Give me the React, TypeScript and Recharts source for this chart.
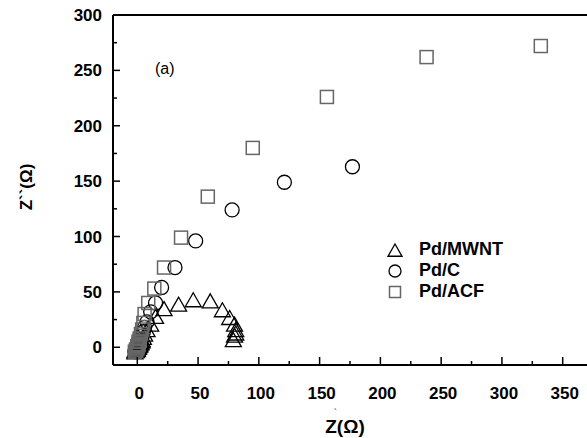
import { ScatterChart, Scatter, XAxis, YAxis, ReferenceLine, Legend } from 'recharts';

const FONT = '"Liberation Sans", Arial, sans-serif';

// Nyquist data: [Z', Z''] in ohm
const mwnt = [
  [-2, -5], [-2, -4], [-1, -4], [-1, -3], [0, -3], [0, -2], [0, -1], [1, -1], [1, 0], [1, 1],
  [2, 1], [2, 2], [2, 3], [3, 3], [3, 4], [4, 5], [4, 6], [5, 8], [6, 11], [8, 15], [11, 20],
  [15, 27], [22, 34], [34, 38], [46, 42], [60, 41], [70, 33], [76, 26], [80, 20], [81, 15],
  [81, 12], [80, 10], [79, 6],
];
const pdC = [
  [-2, -4], [-1, -3], [0, -3], [0, -2], [1, -1], [1, 0], [1, 2], [2, 3], [2, 4], [3, 5],
  [3, 7], [4, 10], [5, 14], [6, 18], [8, 23], [11, 32], [15, 40], [20, 54], [31, 72],
  [48, 96], [78, 124], [121, 149], [177, 163],
];
const acf = [
  [-2, -4], [-1, -3], [-1, -2], [0, -1], [0, 0], [0, 1], [1, 2], [1, 3], [1, 5], [2, 6],
  [2, 8], [3, 12], [4, 16], [5, 22], [6, 30], [9, 40], [14, 53], [22, 72], [36, 99],
  [58, 136], [95, 180], [156, 226], [238, 262], [332, 272],
];

const xTicks = [0, 25, 50, 75, 100, 125, 150, 175, 200, 225, 250, 275, 300, 325, 350];
const yTicks = [0, 25, 50, 75, 100, 125, 150, 175, 200, 225, 250, 275, 300];

const toPts = (arr: number[][]) => arr.map(([x, y]) => ({ x, y }));

const Triangle = ({ cx, cy, half }: any) => {
  const h = half ?? 8;
  return (
    <polygon
      points={`${cx},${cy - h} ${cx - h},${cy + h * 0.75} ${cx + h},${cy + h * 0.75}`}
      fill="none" stroke="#000" strokeWidth={1.3}
    />
  );
};
const Circle = ({ cx, cy, rad }: any) => (
  <circle cx={cx} cy={cy} r={rad ?? 7} fill="none" stroke="#000" strokeWidth={1.3} />
);
const Square = ({ cx, cy, side }: any) => {
  const s = side ?? 6.5;
  return <rect x={cx - s} y={cy - s} width={s * 2} height={s * 2} fill="none" stroke="#666" strokeWidth={1.5} />;
};

const YTick = ({ x, y, payload }: any) => {
  const major = payload.value % 50 === 0;
  return (
    <g>
      <line x1={x} x2={x + (major ? 7 : 4)} y1={y} y2={y} stroke="#000" strokeWidth={1.5} />
      {major && (
        <text x={x - 11} y={y} dy={6} textAnchor="end" fontSize={17} fontWeight="bold" fontFamily={FONT} fill="#000">
          {payload.value}
        </text>
      )}
    </g>
  );
};

const XTick = ({ x, y, payload }: any) => {
  const major = payload.value % 50 === 0;
  return (
    <g>
      <line x1={x} x2={x} y1={y} y2={y - (major ? 8 : 4)} stroke="#000" strokeWidth={1.5} />
      {major && (
        <text x={x + 2} y={y + 34} textAnchor="middle" fontSize={17} fontWeight="bold" fontFamily={FONT} fill="#000">
          {payload.value}
        </text>
      )}
    </g>
  );
};

const XTitle = () => (
  <g>
    <text x={345} y={433} textAnchor="middle" fontSize={19} fontWeight="bold" fontFamily={FONT} fill="#000">
      Z(Ω)
    </text>
    <text x={334} y={415} fontSize={9} fontFamily={FONT} fill="#000">`</text>
  </g>
);

const YTitle = () => (
  <text x={26} y={187} transform="rotate(-90, 26, 187)" dy={6} textAnchor="middle" fontSize={17} fontWeight="bold" fontFamily={FONT} fill="#000">
    Z``(Ω)
  </text>
);

const legendItems = [
  { name: 'Pd/MWNT', icon: <Triangle cx={10} cy={11} half={7} /> },
  { name: 'Pd/C', icon: <Circle cx={10} cy={10} rad={6} /> },
  { name: 'Pd/ACF', icon: <Square cx={10} cy={10} side={5.5} /> },
];

const renderLegend = () => (
  <div style={{ fontFamily: FONT }}>
    {legendItems.map((it) => (
      <div key={it.name} style={{ display: 'flex', alignItems: 'center', height: 21 }}>
        <svg width={20} height={20} style={{ marginRight: 14 }}>{it.icon}</svg>
        <span style={{ fontSize: 18, fontWeight: 'bold', color: '#000' }}>{it.name}</span>
      </div>
    ))}
  </div>
);

export default function App() {
  return (
    <div style={{ position: 'absolute', left: 0, top: 0, width: 587, height: 438, background: '#fff' }}>
      <ScatterChart width={587} height={438} margin={{ top: 15, right: 0, bottom: 13, left: 13 }}>
        <XAxis
          type="number" dataKey="x" domain={[-20, 370]} ticks={xTicks} interval={0}
          allowDataOverflow tick={<XTick />} tickLine={false} tickSize={0} tickMargin={0}
          axisLine={{ stroke: '#000', strokeWidth: 2 }} height={60} label={<XTitle />}
        />
        <YAxis
          type="number" dataKey="y" domain={[-16, 300]} ticks={yTicks} interval={0}
          allowDataOverflow tick={<YTick />} tickLine={false} tickSize={0} tickMargin={0}
          axisLine={{ stroke: '#000', strokeWidth: 2 }} width={100} label={<YTitle />}
        />
        <ReferenceLine y={300} stroke="#000" strokeWidth={2} />
        <Scatter name="Pd/MWNT" data={toPts(mwnt)} shape={<Triangle />} isAnimationActive={false} />
        <Scatter name="Pd/C" data={toPts(pdC)} shape={<Circle />} isAnimationActive={false} />
        <Scatter name="Pd/ACF" data={toPts(acf)} shape={<Square />} isAnimationActive={false} />
        <Legend
          layout="vertical" align="center" verticalAlign="middle" content={renderLegend}
          wrapperStyle={{ position: 'absolute', left: 385, top: 239, width: 170 }}
        />
      </ScatterChart>
      <div style={{ position: 'absolute', left: 155, top: 60, fontFamily: FONT, fontSize: 16, color: '#000' }}>(a)</div>
    </div>
  );
}
